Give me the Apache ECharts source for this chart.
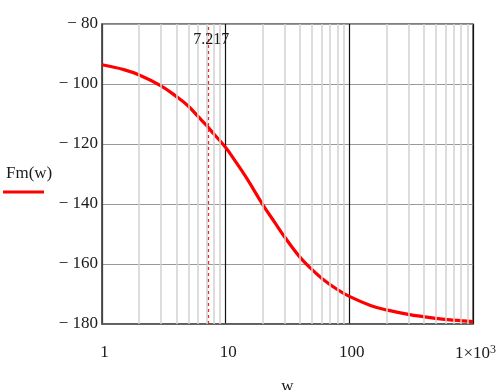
<!DOCTYPE html>
<html>
<head>
<meta charset="utf-8">
<script src="https://cdn.jsdelivr.net/npm/echarts@6/dist/echarts.min.js"></script>
<style>html,body{margin:0;padding:0;background:#fff}#c{width:502px;height:390px}</style>
</head>
<body>
<div id="c"></div>
<script>
// Data
var wValues  = [1, 1.5, 2, 3, 4, 5, 6, 7, 8, 10, 12, 15, 20, 25, 30, 40, 50, 60, 80, 100, 150, 200, 300, 500, 700, 1000];
var fmValues = [-93.6, -95.2, -97, -100.6, -104.2, -107.4, -110.9, -113.8, -116.6, -121.2, -125.8, -131.8, -140.3, -146.2, -151, -157.8, -161.9, -164.8, -168.5, -170.8, -173.9, -175.3, -176.8, -178.1, -178.7, -179.2];
var markerW = 7.217;
var markerLabel = '7.217';
var minorW = [2,3,4,5,6,7,8,9,20,30,40,50,60,70,80,90,200,300,400,500,600,700,800,900];
var xTickLabels = {1: '1', 10: '10', 100: '100', 1000: '1×10{sup|3}'};
var seriesName = 'Fm(w)';
var xName = 'w';

var font = '"Liberation Serif", "Times New Roman", serif';
var txt = '#1a1a1a';
var chart = echarts.init(document.getElementById('c'));
var pts = wValues.map(function (w, i) { return [w, fmValues[i]]; });

chart.setOption({
  animation: false,
  grid: { left: 102, right: 29, top: 24, bottom: 66, containLabel: false, outerBoundsMode: 'none',
          show: true, borderColor: '#555', borderWidth: 1.5, backgroundColor: 'transparent' },
  xAxis: {
    type: 'log', logBase: 10, min: 1, max: 1000,
    name: xName, nameLocation: 'middle', nameGap: 54,
    nameTextStyle: { fontFamily: font, fontSize: 17, color: txt },
    axisLine: { show: true, lineStyle: { color: '#555', width: 1.5 } },
    axisTick: { show: false },
    axisLabel: {
      margin: 20, fontFamily: font, fontSize: 17, color: txt, padding: [0, 0, 0, 5],
      formatter: function (v) { var k = Math.round(v); return xTickLabels[k] || ''; },
      rich: { sup: { fontFamily: font, fontSize: 12, color: txt, verticalAlign: 'top', padding: [0, 0, 8, 0] } }
    },
    splitLine: { show: true, lineStyle: { color: '#111', width: 1.2 } }
  },
  yAxis: {
    type: 'value', min: -180, max: -80, interval: 20,
    axisLine: { show: true, lineStyle: { color: '#555', width: 1.5 } },
    axisTick: { show: false },
    axisLabel: {
      margin: 4, fontFamily: font, fontSize: 17, color: txt,
      formatter: function (v) { return (v < 0 ? '\u2212 ' : '') + Math.abs(v); }
    },
    splitLine: { show: true, lineStyle: { color: '#999', width: 1 } }
  },
  series: [
    {
      type: 'line', data: [], z: 1, silent: true,
      markLine: {
        silent: true, symbol: ['none', 'none'], animation: false,
        label: { show: false },
        lineStyle: { color: '#d2d2d2', type: 'solid', width: 1.5 },
        data: minorW.map(function (w) { return { xAxis: w }; })
      }
    },
    {
      type: 'line', data: [], z: 2, silent: true,
      markLine: {
        silent: true, symbol: ['none', 'none'], animation: false,
        label: { show: false },
        lineStyle: { color: '#ff2020', type: [3, 3], width: 1.2 },
        data: [{ xAxis: markerW }]
      },
      markPoint: {
        symbol: 'circle', symbolSize: 0,
        label: { show: true, formatter: markerLabel, fontFamily: font, fontSize: 16, color: txt, position: 'inside', offset: [3, 0] },
        data: [{ coord: [markerW, -85.4] }]
      }
    },
    {
      name: seriesName, type: 'line', data: pts, z: 3,
      smooth: 0.4, showSymbol: false,
      lineStyle: { color: '#ff0000', width: 3.2 }
    }
  ],
  graphic: [
    { type: 'text', left: 6, top: 165, style: { text: seriesName, font: '17px ' + font, fill: txt } },
    { type: 'line', shape: { x1: 3, y1: 192, x2: 44, y2: 192 }, style: { stroke: '#ff0000', lineWidth: 3 } }
  ]
});
</script>
</body>
</html>
